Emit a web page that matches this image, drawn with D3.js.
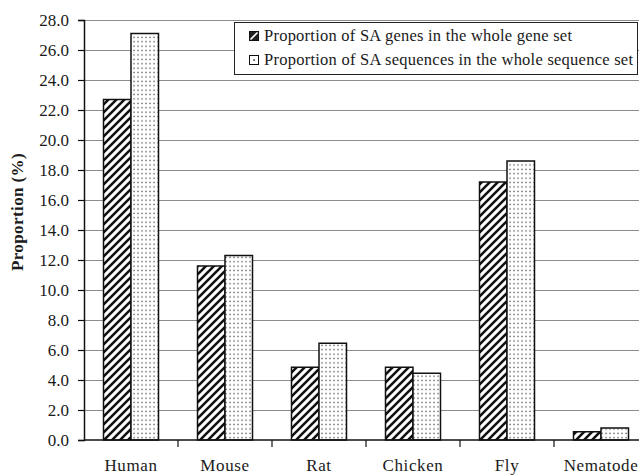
<!DOCTYPE html>
<html>
<head>
<meta charset="utf-8">
<script src="https://cdn.jsdelivr.net/npm/d3@7/dist/d3.min.js"></script>
<style>
  html, body { margin: 0; padding: 0; background: #fff; }
  svg { display: block; }
  svg text { font-family: "Liberation Serif", "Times New Roman", Times, "DejaVu Serif", serif !important; fill: #1a1a1a; }
</style>
</head>
<body>
<svg id="chart" width="639" height="475" font-family="Liberation Serif, Times New Roman, serif"></svg>
<script>
const categories = ["Human", "Mouse", "Rat", "Chicken", "Fly", "Nematode"];
const seriesNames = [
  "Proportion of SA  genes in the whole gene set",
  "Proportion of SA  sequences in the whole sequence set"
];
const geneValues = [22.7, 11.6, 4.85, 4.85, 17.2, 0.55];
const seqValues  = [27.1, 12.3, 6.45, 4.45, 18.6, 0.8];
const yTicks = [0, 2, 4, 6, 8, 10, 12, 14, 16, 18, 20, 22, 24, 26, 28];
const yTitle = "Proportion (%)";

const svg = d3.select("#chart");
const W = 639, H = 475;
const plot = { left: 84, top: 20, bottom: 440, right: 648 };
const SERIF = "'Liberation Serif', 'Times New Roman', serif";

const defs = svg.append("defs");
const hatch = defs.append("pattern").attr("id", "hatch")
  .attr("patternUnits", "userSpaceOnUse").attr("width", 8).attr("height", 8);
hatch.append("rect").attr("width", 8).attr("height", 8).attr("fill", "#fff");
hatch.append("path").attr("d", "M-2,2 L2,-2 M0,8 L8,0 M6,10 L10,6")
  .attr("stroke", "#111").attr("stroke-width", 2.6);
const dots = defs.append("pattern").attr("id", "dots")
  .attr("patternUnits", "userSpaceOnUse").attr("width", 4).attr("height", 4.4);
dots.append("rect").attr("width", 4).attr("height", 4.4).attr("fill", "#fff");
dots.append("rect").attr("x", 1.4).attr("y", 1.5).attr("width", 1.3).attr("height", 1.3).attr("fill", "#4a4a4a");

const y = d3.scaleLinear().domain([0, 28]).range([plot.bottom, plot.top]);
const x = d3.scaleBand().domain(categories).range([plot.left, plot.right]).paddingInner(0).paddingOuter(0);
const x1 = d3.scaleBand().domain([0, 1]).range([19.5, x.bandwidth() - 19.5]);

// gridlines
svg.append("g").selectAll("line").data(yTicks.filter(d => d > 0)).join("line")
  .attr("x1", plot.left).attr("x2", W)
  .attr("y1", d => Math.round(y(d)) + 0.5).attr("y2", d => Math.round(y(d)) + 0.5)
  .attr("stroke", "#8c8c8c").attr("stroke-width", 1);

// bars
const series = [
  { values: geneValues, fill: "url(#hatch)" },
  { values: seqValues, fill: "url(#dots)" }
];
series.forEach((s, si) => {
  svg.append("g").selectAll("rect").data(categories).join("rect")
    .attr("x", c => x(c) + x1(si))
    .attr("width", x1.bandwidth())
    .attr("y", (c, i) => y(s.values[i]))
    .attr("height", (c, i) => y(0) - y(s.values[i]))
    .attr("fill", s.fill)
    .attr("stroke", "#111").attr("stroke-width", 1.5);
});

// y axis
const yAxis = d3.axisLeft(y).tickValues(yTicks).tickFormat(d3.format(".1f")).tickSize(6).tickPadding(9);
const gy = svg.append("g").attr("transform", `translate(${plot.left},0)`).call(yAxis)
  .attr("font-family", SERIF);
gy.select(".domain").attr("stroke", "#111").attr("stroke-width", 1.5);
gy.selectAll(".tick line").attr("stroke", "#111").attr("stroke-width", 1.2);
gy.selectAll(".tick text").style("font-family", SERIF)
  .style("font-size", "17px").attr("fill", "#222");

// x axis
svg.append("line").attr("x1", plot.left).attr("x2", W)
  .attr("y1", plot.bottom).attr("y2", plot.bottom)
  .attr("stroke", "#111").attr("stroke-width", 1.5);
svg.append("g").selectAll("line").data(categories.slice(1)).join("line")
  .attr("x1", c => x(c)).attr("x2", c => x(c))
  .attr("y1", plot.bottom).attr("y2", plot.bottom + 7)
  .attr("stroke", "#111").attr("stroke-width", 1.2);
svg.append("g").selectAll("text").data(categories).join("text")
  .attr("x", c => x(c) + x.bandwidth() / 2)
  .attr("y", 471)
  .attr("text-anchor", "middle")
  .style("font-family", SERIF)
  .style("font-size", "17px")
  .style("letter-spacing", "0.6px")
  .text(c => c);

// y title
svg.append("text")
  .attr("transform", "translate(23,212) rotate(-90)")
  .attr("text-anchor", "middle")
  .style("font-family", SERIF)
  .style("font-size", "17px").style("font-weight", "bold")
  .style("letter-spacing", "0.4px")
  .text(yTitle);

// legend
const legendWidths = [308, 369];
const lg = svg.append("g");
lg.append("rect").attr("x", 234.5).attr("y", 22.5).attr("width", 403).attr("height", 52)
  .attr("fill", "#fff").attr("stroke", "#222").attr("stroke-width", 1);
series.forEach((s, i) => {
  const yy = 31 + i * 24;
  lg.append("rect").attr("x", 249.5).attr("y", yy + 0.5).attr("width", 9).attr("height", 9)
    .attr("fill", i === 0 ? "#222" : "#fff").attr("stroke", "#111").attr("stroke-width", 1);
  if (i === 0) {
    lg.append("line").attr("x1", 250.5).attr("y1", yy + 8.5).attr("x2", 257.5).attr("y2", yy + 1.5)
      .attr("stroke", "#fff").attr("stroke-width", 1.6);
  } else {
    lg.append("rect").attr("x", 253.3).attr("y", yy + 4.3).attr("width", 1.6).attr("height", 1.6).attr("fill", "#333");
  }
  lg.append("text").attr("x", 264).attr("y", yy + 10)
    .style("font-family", SERIF)
    .style("font-size", "16.5px")
    .attr("textLength", legendWidths[i]).attr("lengthAdjust", "spacing")
    .text(seriesNames[i]);
});
</script>
</body>
</html>
